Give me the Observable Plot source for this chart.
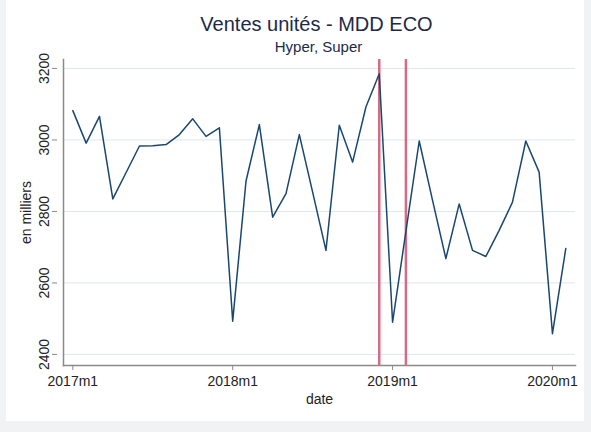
<!DOCTYPE html>
<html>
<head>
<meta charset="utf-8">
<script src="https://cdn.jsdelivr.net/npm/d3@7"></script>
<script src="https://cdn.jsdelivr.net/npm/@observablehq/plot@0.6"></script>
<style>
  html, body { margin: 0; padding: 0; background: #f1f2f4; width: 591px; height: 432px; overflow: hidden; }
  #frame { position: absolute; left: 6px; top: 0; width: 578px; height: 421px; background: #ffffff; }
  #title { position: absolute; left: 21px; top: 13px; width: 591px; text-align: center; font: 20px "Liberation Sans", Arial, sans-serif; color: #1c2a47; line-height: 22px; }
  #subtitle { position: absolute; left: 23px; top: 38px; width: 591px; text-align: center; font: 15px "Liberation Sans", Arial, sans-serif; color: #1c2a47; line-height: 17px; }
  #chart { position: absolute; left: 0; top: 56px; }
</style>
</head>
<body>
<div id="frame"></div>
<div id="title">Ventes unités - MDD ECO</div>
<div id="subtitle">Hyper, Super</div>
<div id="chart"></div>
<script>
// Monthly periods (Stata %tm style)
const months = ["2017m1","2017m2","2017m3","2017m4","2017m5","2017m6","2017m7","2017m8","2017m9","2017m10","2017m11","2017m12",
                "2018m1","2018m2","2018m3","2018m4","2018m5","2018m6","2018m7","2018m8","2018m9","2018m10","2018m11","2018m12",
                "2019m1","2019m2","2019m3","2019m4","2019m5","2019m6","2019m7","2019m8","2019m9","2019m10","2019m11","2019m12",
                "2020m1","2020m2"];
// Sales units (thousands)
const ventes = [3082,2991,3066,2835,2909,2983,2984,2987,3015,3059,3010,3034,
                2493,2885,3043,2784,2850,3015,2854,2691,3041,2938,3092,3185,
                2490,2744,2997,2831,2668,2821,2691,2674,2747,2826,2997,2910,
                2458,2696];
const xTickLabels = ["2017m1","2018m1","2019m1","2020m1"];
const yTicks = [2400,2600,2800,3000,3200];
const markers = ["2018m12","2019m2"];

const toIndex = s => { const [y, m] = s.split("m").map(Number); return (y - 2017) * 12 + (m - 1); };
const data = months.map((m, i) => ({t: toIndex(m), v: ventes[i]}));
const xTicks = xTickLabels.map(toIndex);
const markerIdx = markers.map(toIndex);
const labelOf = new Map(months.map(m => [toIndex(m), m]));

const font = '"Liberation Sans", Arial, sans-serif';
const chart = Plot.plot({
  width: 591,
  height: 354,
  marginLeft: 63,
  marginRight: 16,
  marginTop: 3,
  marginBottom: 45,
  style: {fontFamily: font, fontSize: "14px", color: "#222", background: "transparent", overflow: "visible"},
  x: {domain: [-0.7, 37.73]},
  y: {domain: [2369, 3225]},
  marks: [
    Plot.gridY(yTicks, {stroke: "#dde7ee", strokeOpacity: 1, strokeWidth: 1}),
    Plot.frame({anchor: "left", stroke: "#8a8a8a", strokeWidth: 1.5}),
    Plot.frame({anchor: "bottom", stroke: "#8a8a8a", strokeWidth: 1.5}),
    Plot.axisX(xTicks, {tickSize: 5, tickPadding: 6, stroke: "#8a8a8a", tickFormat: d => labelOf.get(d), fontSize: 14, fill: "#222", label: "date", labelAnchor: "center", labelOffset: 38, labelArrow: false}),
    Plot.axisY(yTicks, {tickSize: 5, tickPadding: 4, dx: -6, stroke: "#8a8a8a", tickRotate: -90, tickFormat: d => String(d), textAnchor: "middle", fontSize: 14, fill: "#222", label: "en milliers", labelAnchor: "center", labelOffset: 42, labelArrow: false}),
    Plot.ruleX(markerIdx, {stroke: "#d46c85", strokeWidth: 2.5}),
    Plot.line(data, {x: "t", y: "v", stroke: "#1a476f", strokeWidth: 1.5})
  ]
});
document.getElementById("chart").appendChild(chart);
</script>
</body>
</html>
